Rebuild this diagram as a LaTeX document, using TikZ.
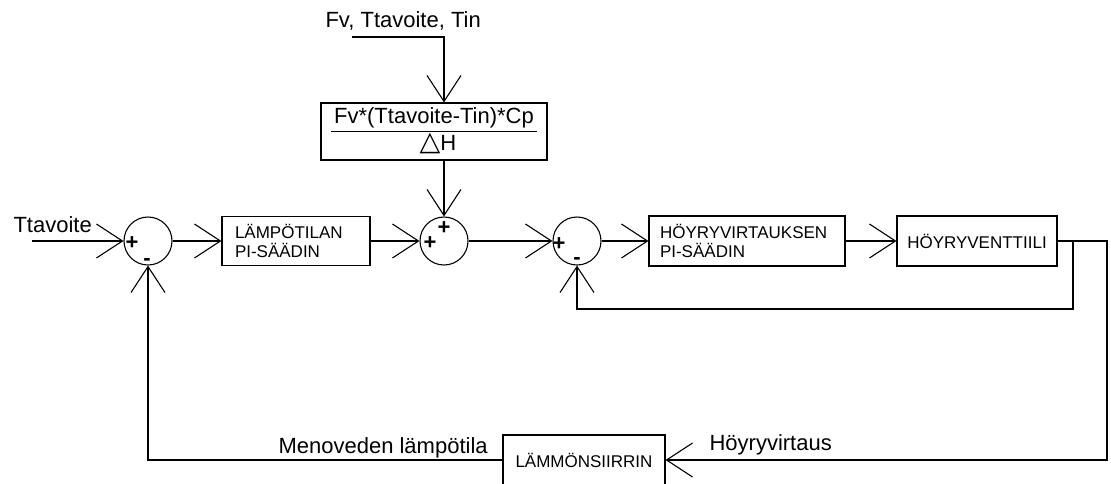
\documentclass[tikz,border=0pt]{standalone}
\usepackage{fontspec}
\setmainfont{Liberation Sans}
\newfontfamily\dejavu{DejaVu Sans}
\usetikzlibrary{arrows.meta}
\begin{document}
\begin{tikzpicture}[x=1pt,y=-1pt, line width=1.1pt,
  arr/.style={-{Straight Barb[length=26pt,width=34pt]}},
  sumnode/.style={circle,draw,minimum size=48pt,inner sep=0pt},
  blk/.style={draw,inner sep=0pt,font=\fontsize{17}{19}\selectfont},
  lbl/.style={font=\fontsize{22}{26}\selectfont,inner sep=0pt,anchor=base west},
  sgn/.style={font=\fontsize{22}{24}\selectfont\bfseries,inner sep=0pt,anchor=base}]
\useasboundingbox (0,0) rectangle (1111,483);
\fill[white] (0,0) rectangle (1111,483);
% summing junctions
\node[sumnode] (c1) at (148,241) {};
\node[sumnode] (c2) at (444,241) {};
\node[sumnode] (c3) at (577,241) {};
% blocks
\node[blk, minimum width=148pt, minimum height=49pt, align=left, text width=122pt] (b1) at (296,241) {LÄMPÖTILAN\\PI-SÄÄDIN};
\node[blk, minimum width=196pt, minimum height=50pt, align=left, text width=174pt] (b2) at (747,241) {HÖYRYVIRTAUKSEN\\PI-SÄÄDIN};
\node[blk, minimum width=160pt, minimum height=50pt] (b3) at (977,241) {HÖYRYVENTTIILI};
\node[draw, inner sep=0pt, minimum width=226pt, minimum height=57pt, font=\fontsize{22}{26}\selectfont] (fb) at (434,131.5)
  {\setlength\tabcolsep{3.5pt}\setlength\arrayrulewidth{1.1pt}\begin{tabular}{c}Fv*(Ttavoite-Tin)*Cp\\\hline\hspace*{8pt}{\dejavu\fontsize{27}{27}\selectfont △}H\end{tabular}};
\node[blk, minimum width=162pt, minimum height=50pt] (lm) at (584,460) {LÄMMÖNSIIRRIN};
% labels
\node[lbl] (tt) at (13,232) {Ttavoite};
\node[lbl] (fv) at (325,27) {Fv, Ttavoite, Tin};
\node[lbl] (mv) at (278,453) {Menoveden lämpötila};
\node[lbl] (hv) at (709,450) {Höyryvirtaus};
% signs
\node[sgn] (p1) at (132,249.5) {+};
\node[sgn] (m1) at (147,265) {-};
\node[sgn] (p2) at (430,249.5) {+};
\node[sgn] (p2t) at (444,234.5) {+};
\node[sgn] (p3) at (559,250.5) {+};
\node[sgn] (m3) at (577,264) {-};
% connectors
\coordinate (tin) at (32,241);
\draw[arr] (tin) -- (c1.west);
\draw[arr] (c1.east) -- (b1.west);
\draw[arr] (b1.east) -- (c2.west);
\draw[arr] (c2.east) -- (c3.west);
\draw[arr] (c3.east) -- (b2.west);
\draw[arr] (b2.east) -- (b3.west);
\coordinate (fvl) at (352,37);
\draw[arr] (fvl) -| (c2 |- fb.north);
\draw[arr] (c2 |- fb.south) -- (c2.north);
\coordinate (oc) at (1107,241);
\draw[arr] (b3.east) -- (oc) |- (lm.east);
\coordinate (ic) at (1073,241);
\coordinate (ib) at (1073,309);
\draw[arr] (ic) -- (ib) -| (c3.south);
\draw[arr] (lm.west) -| (c1.south);
\end{tikzpicture}
\end{document}
